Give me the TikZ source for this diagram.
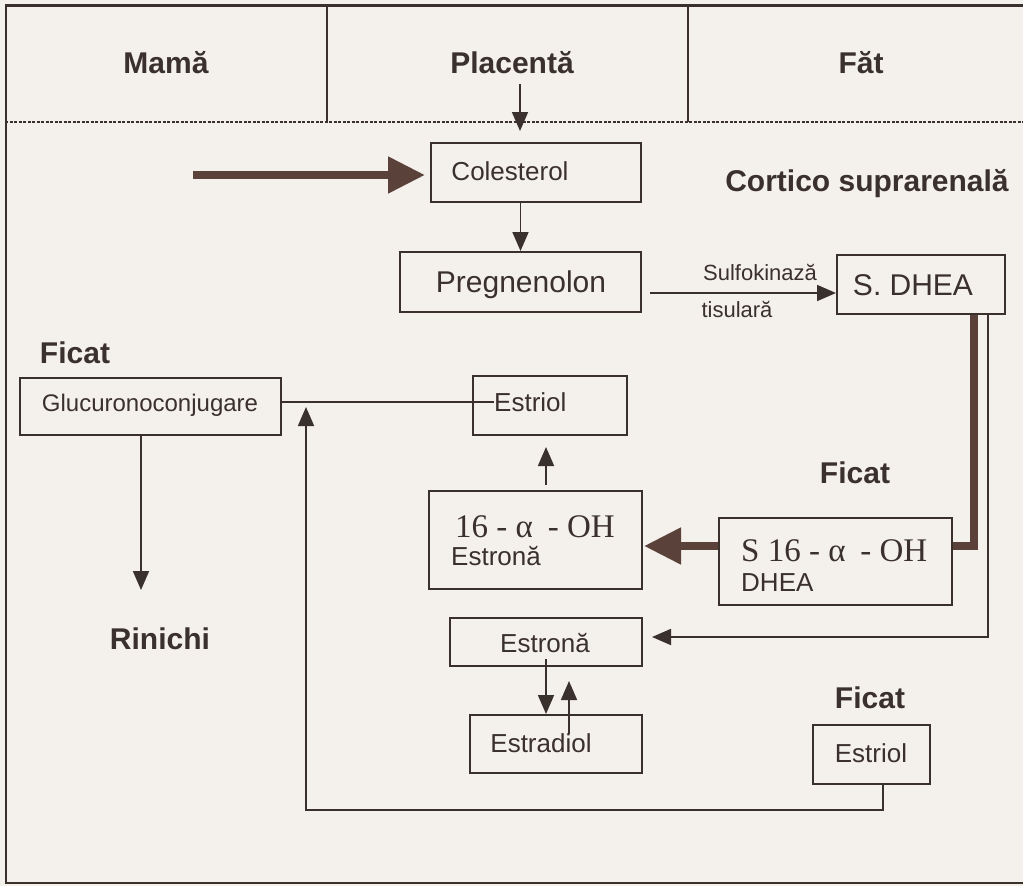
\documentclass[tikz,border=0pt]{standalone}
\usepackage{fontspec}
\setmainfont{Liberation Sans}
\newfontfamily\tms{Liberation Serif}
\usetikzlibrary{arrows.meta,calc}
\definecolor{bg}{HTML}{F4F0EC}
\definecolor{ink}{HTML}{3A302C}
\definecolor{brn}{HTML}{5A423A}
\begin{document}
\begin{tikzpicture}[x=1pt,y=-1pt,
  box/.style={draw=ink,line width=2pt,inner sep=0pt},
  txt/.style={text=ink,inner sep=0pt,anchor=base,font=\fontsize{26}{30}\selectfont},
  big/.style={text=ink,inner sep=0pt,anchor=base,font=\fontsize{30}{34}\selectfont},
  lab/.style={text=ink,inner sep=0pt,anchor=base,font=\fontsize{30}{34}\selectfont\bfseries},
  ser/.style={text=ink,inner sep=0pt,anchor=base,font=\fontsize{33}{36}\selectfont\tms},
  ln/.style={draw=ink,line width=1.8pt},
  arr/.style={ln,-{Triangle[length=19pt,width=16pt]}},
  fat/.style={draw=brn,line width=8pt,line join=miter},
  fatarr/.style={fat,-{Triangle[length=37pt,width=35pt]}}]
\fill[bg] (0,0) rectangle (1023,886);
\useasboundingbox (0,0) rectangle (1023,886);
% frame and header
\draw[draw=ink,line width=3pt] (5,5) -- (1023,5);
\draw[draw=ink,line width=2.5pt] (6,5) -- (6,883);
\draw[draw=ink,line width=2pt] (5,883) -- (1023,883);
\draw[draw=ink,line width=2pt] (327,5) -- (327,122);
\draw[draw=ink,line width=2pt] (688,5) -- (688,122);
\draw[draw=ink,line width=1.6pt,dash pattern=on 3pt off 1.5pt] (5,122) -- (1023,122);
\node[lab] (mama) at (166,73) {Mamă};
\node[lab] (placenta) at (512,73) {Placentă};
\node[lab] (fat) at (861,73) {Făt};
% labels
\node[lab] (cortico) at (867,191) {Cortico suprarenală};
\node[lab] (ficat1) at (75,363) {Ficat};
\node[lab] (ficat2) at (855,483) {Ficat};
\node[lab] (ficat3) at (870,708) {Ficat};
\node[lab] (rinichi) at (160,649) {Rinichi};
% boxes
\node[box,minimum width=210pt,minimum height=59pt] (colest) at (536,172.5) {};
\node[txt] (colestt) at (510,180) {Colesterol};
\node[box,minimum width=241pt,minimum height=60pt] (preg) at (520.5,282) {};
\node[big] (pregt) at (521,292) {Pregnenolon};
\node[box,minimum width=168pt,minimum height=59pt] (sdhea) at (921,284.5) {};
\node[big] (sdheat) at (913,295) {S. DHEA};
\node[box,minimum width=261pt,minimum height=57pt] (gluc) at (150.5,406.5) {};
\node[txt,font=\fontsize{24}{28}\selectfont] (glucz) at (150,411) {Glucuronoconjugare};
\node[box,minimum width=154pt,minimum height=59pt] (estriol1) at (550,405.5) {};
\node[txt,anchor=west] (estriol1t) at (494,402) {Estriol};
\node[box,minimum width=213pt,minimum height=98pt] (ohestrona) at (535.5,540) {};
\node[ser] (oht) at (535,537) {16 - α\hspace{0.45em}- OH};
\node[txt,anchor=base west] (ohestronat) at (451,565) {Estronă};
\node[box,minimum width=233pt,minimum height=87pt] (s16) at (835.5,561.5) {};
\node[ser,anchor=base west] (s16t) at (741,561) {S 16 - α\hspace{0.45em}- OH};
\node[txt,anchor=base west] (s16d) at (741,591) {DHEA};
\node[box,minimum width=192pt,minimum height=48pt] (estrona) at (546,642) {};
\node[txt] (estronat) at (545,652) {Estronă};
\node[box,minimum width=172pt,minimum height=58pt] (estradiol) at (556,744) {};
\node[txt] (estradiolt) at (541,752) {Estradiol};
\node[box,minimum width=117pt,minimum height=59pt] (estriol2) at (871.5,754.5) {};
\node[txt] (estriol2t) at (871,762) {Estriol};
% connectors
\coordinate (pa) at (520,84);
\coordinate (pb) at (520,131);
\draw[arr] (pa) -- (pb);
\coordinate (ms) at (193,175);
\draw[fatarr] (ms) -- ($(colest.west |- ms)+(-5,0)$);
\draw[arr] (preg.north |- colest.south) -- (preg.north);
\coordinate (sa) at (650,293);
\draw[arr] (sa) -- (sdhea.west |- sa);
\node[txt,font=\fontsize{22}{26}\selectfont] (sulfo) at (760,280) {Sulfokinază};
\node[txt,font=\fontsize{22}{26}\selectfont] (tisul) at (737,317) {tisulară};
\coordinate (k1) at (974,546);
\draw[fat] (sdhea.south -| k1) -- (k1) -- (s16.east |- k1);
\draw[fatarr] (s16.west |- k1) -- ($(ohestrona.east |- k1)+(1,0)$);
\coordinate (k2) at (988,637);
\draw[arr] (sdhea.south -| k2) -- (k2) -- ($(estrona.east |- k2)+(9,0)$);
\coordinate (u1) at (546,485);
\draw[arr] (u1) -- ($(estriol1.south -| u1)+(0,11)$);
\draw[ln] (gluc.east |- estriol1t.west) -- (estriol1t.west);
\coordinate (r1) at (141,590);
\draw[arr] (gluc.south -| r1) -- (r1);
\coordinate (d1) at (546,700);
\coordinate (d2) at (569,700);
\draw[arr] ($(estrona.south -| d1)+(0,-8)$) -- (estradiol.north -| d1);
\draw[arr] ($(estradiol.north -| d2)+(0,20)$) -- ($(estrona.south -| d2)+(0,14)$);
\coordinate (ex) at (883,810);
\coordinate (lb) at (306,810);
\coordinate (lt) at (306,407);
\draw[arr] (estriol2.south -| ex) -- (ex) -- (lb) -- (lt);
\end{tikzpicture}
\end{document}
